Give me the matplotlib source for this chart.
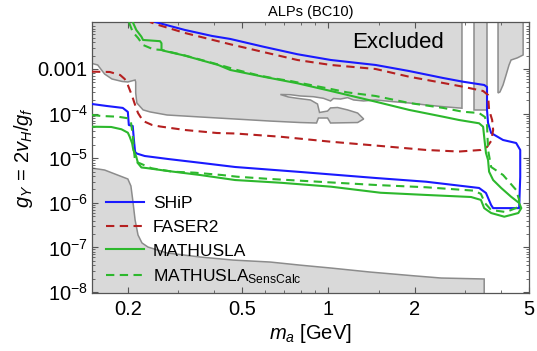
import numpy as np
import matplotlib
matplotlib.use("Agg")
import matplotlib.pyplot as plt
from matplotlib.ticker import FixedLocator, FixedFormatter, NullFormatter

plt.rcParams['font.family'] = ['Liberation Sans', 'DejaVu Sans']
plt.rcParams['mathtext.fontset'] = 'custom'
plt.rcParams['mathtext.rm'] = 'Liberation Sans'
plt.rcParams['mathtext.it'] = 'Liberation Sans:italic'
plt.rcParams['mathtext.bf'] = 'Liberation Sans:bold'

# --- excluded regions (gray), boundaries ---
# upper region, traced left -> right incl. the white notch around 1 GeV
excl_up_m = [0.14, 0.14, 0.150, 0.157, 0.166, 0.176, 0.191, 0.200, 0.212, 0.213, 0.213,
             0.215, 0.226, 0.239, 0.274, 0.357, 0.466, 0.627, 0.799, 0.909, 0.923, 0.993,
             1.017, 1.264, 1.327, 1.264, 1.166, 1.076, 1.017, 0.993, 0.931, 0.916, 0.866,
             0.780, 0.725, 0.680, 0.737, 0.799, 0.887, 0.961, 1.017, 1.042, 1.102, 1.166,
             1.224, 1.327, 1.46, 1.68, 1.91, 2.19, 2.51, 2.92, 2.92]
excl_up_g = [5e-2, 1.33e-3, 1.33e-3, 1.23e-3, 7.7e-4, 5.97e-4, 5.25e-4, 5.11e-4, 5.66e-4, 5.11e-4, 2.90e-4,
             1.73e-4, 1.21e-4, 1.09e-4, 9.3e-5, 8.4e-5, 7.6e-5, 6.8e-5, 6.3e-5, 6.15e-5, 7.96e-5, 7.96e-5,
             6.15e-5, 6.3e-5, 7.57e-5, 1.03e-4, 1.21e-4, 1.37e-4, 1.34e-4, 1.14e-4, 1.06e-4, 1.64e-4, 2.02e-4,
             2.20e-4, 2.36e-4, 2.68e-4, 2.65e-4, 2.48e-4, 2.39e-4, 2.20e-4, 1.92e-4, 2.18e-4, 2.12e-4, 2.28e-4,
             2.02e-4, 1.92e-4, 2.02e-4, 1.85e-4, 1.73e-4, 1.56e-4, 1.43e-4, 1.32e-4, 5e-2]

excl_strip_m = [3.22, 3.22, 3.57, 3.57]
excl_strip_g = [5e-2, 1.2e-4, 1.2e-4, 5e-2]

excl_finger_m = [3.90, 3.90, 3.96, 4.06, 4.16, 4.26, 4.33, 4.55, 4.77, 4.77]
excl_finger_g = [5e-2, 2.90e-4, 3.05e-4, 4.38e-4, 7.33e-4, 1.23e-3, 1.59e-3, 1.77e-3, 2.06e-3, 5e-2]

excl_low_m = [0.14, 0.14, 0.150, 0.166, 0.200, 0.205, 0.208, 0.212, 0.217, 0.224, 0.235, 0.274,
              0.357, 0.466, 0.627, 0.799, 1.02, 1.40, 2.0, 2.47, 3.49, 3.49]
excl_low_g = [1e-9, 6.0e-6, 6.0e-6, 5.43e-6, 3.42e-6, 2.38e-6, 1.16e-6, 4.11e-7, 1.90e-7, 1.26e-7, 1.02e-7, 7.5e-8,
              6.1e-8, 5.2e-8, 4.7e-8, 4.0e-8, 3.45e-8, 2.8e-8, 2.3e-8, 2.06e-8, 1.96e-8, 1e-9]

# --- sensitivity curves ---
ship_m = [0.150, 0.169, 0.192, 0.200, 0.2016, 0.208, 0.210, 0.212, 0.215, 0.229, 0.276, 0.363, 0.473,
          0.799, 1.46, 2.19, 3.35, 3.54, 3.69, 3.75, 4.62, 4.66, 4.66, 4.51, 4.06, 3.69, 3.60, 3.57,
          3.57, 3.49, 2.94, 2.51, 1.91, 1.46, 1.02, 0.780, 0.593, 0.455, 0.393, 0.316, 0.249]
ship_g = [1.64e-4, 1.48e-4, 1.34e-4, 1.09e-4, 5.55e-5, 5.27e-5, 2.56e-5, 1.38e-5, 1.27e-5, 1.12e-5, 9.6e-6,
          7.8e-6, 6.35e-6, 4.91e-6, 3.60e-6, 2.97e-6, 2.15e-6, 1.66e-6, 8.9e-7, 7.6e-7, 7.6e-7, 3.79e-6,
          1.53e-5, 2.19e-5, 2.56e-5, 3.67e-5, 6.15e-5, 1.21e-4, 3.95e-4, 4.38e-4, 5.19e-4, 6.28e-4, 9.0e-4,
          1.23e-3, 1.59e-3, 2.14e-3, 3.16e-3, 4.71e-3, 5.50e-3, 7.5e-3, 1.13e-2]

faser2_m = [0.150, 0.173, 0.188, 0.195, 0.200, 0.207, 0.212, 0.217, 0.226, 0.243, 0.259, 0.316, 0.409,
            0.473, 0.680, 1.02, 1.52, 2.19, 2.85, 3.40, 3.57, 3.69, 3.75, 3.72, 3.63, 3.60, 3.46, 2.94,
            2.51, 1.91, 1.46, 1.02, 0.780, 0.593, 0.455, 0.316, 0.249, 0.239]
faser2_g = [8.7e-4, 8.57e-4, 7.33e-4, 5.97e-4, 4.38e-4, 2.48e-4, 1.56e-4, 1.03e-4, 6.83e-5, 5.55e-5, 5.14e-5,
            4.29e-5, 3.67e-5, 3.58e-5, 3.03e-5, 2.34e-5, 1.88e-5, 1.53e-5, 1.41e-5, 1.53e-5, 1.78e-5, 2.43e-5,
            4.29e-5, 7.19e-5, 1.21e-4, 2.61e-4, 3.21e-4, 4.01e-4, 4.86e-4, 6.71e-4, 1.0e-3, 1.23e-3, 1.59e-3,
            2.40e-3, 3.58e-3, 6.42e-3, 1.02e-2, 1.13e-2]

mathusla_m = [0.150, 0.175, 0.190, 0.200, 0.203, 0.207, 0.209, 0.214, 0.217, 0.223, 0.233, 0.276, 0.357,
              0.473, 0.680, 1.02, 1.52, 2.19, 3.14, 3.40, 3.49, 3.69, 4.10, 4.59, 4.70, 4.62, 4.33, 4.00,
              3.75, 3.63, 3.60, 3.54, 3.49, 3.46, 3.35, 2.85, 2.51, 1.91, 1.46, 1.02, 0.780, 0.593, 0.455,
              0.413, 0.316, 0.269, 0.262, 0.262, 0.259, 0.226, 0.223, 0.214, 0.208]
mathusla_g = [5.08e-5, 5.01e-5, 4.45e-5, 3.73e-5, 3.03e-5, 2.16e-5, 1.53e-5, 1.08e-5, 7.69e-6, 6.2e-6, 6.0e-6,
              5.16e-6, 4.20e-6, 3.24e-6, 2.82e-6, 2.30e-6, 1.68e-6, 1.50e-6, 1.35e-6, 1.16e-6, 7.6e-7, 5.9e-7,
              4.88e-7, 5.9e-7, 7.6e-7, 9.9e-7, 1.37e-6, 2.15e-6, 3.24e-6, 4.98e-6, 9.1e-6, 1.31e-5, 2.99e-5,
              5.08e-5, 6.06e-5, 7.19e-5, 8.51e-5, 1.21e-4, 1.85e-4, 3.21e-4, 4.78e-4, 6.71e-4, 9.5e-4,
              1.23e-3, 1.99e-3, 2.53e-3, 2.67e-3, 3.77e-3, 4.2e-3, 4.47e-3, 5.30e-3, 7.5e-3, 1.13e-2]

senscalc_m = [0.150, 0.162, 0.185, 0.200, 0.205, 0.208, 0.210, 0.212, 0.220, 0.242, 0.287, 0.343, 0.425,
              0.480, 0.627, 1.46, 2.19, 3.22, 3.40, 3.51, 3.69, 4.16, 4.59, 4.62, 4.51, 4.06, 3.69, 3.60,
              3.57, 3.51, 3.35, 2.94, 2.51, 1.91, 1.46, 1.16, 1.02, 0.866, 0.737, 0.643, 0.564, 0.480,
              0.413, 0.316, 0.262, 0.245, 0.226, 0.217, 0.208, 0.2016]
senscalc_g = [9.3e-5, 8.83e-5, 8.51e-5, 7.85e-5, 6.49e-5, 3.31e-5, 1.53e-5, 8.36e-6, 7.7e-6, 5.94e-6, 4.98e-6,
              4.73e-6, 4.20e-6, 3.85e-6, 3.42e-6, 2.51e-6, 2.23e-6, 1.87e-6, 1.58e-6, 9.9e-7, 6.9e-7, 6.2e-7,
              8.05e-7, 1.16e-6, 1.94e-6, 4.20e-6, 6.35e-6, 1.53e-5, 5.55e-5, 8.4e-5, 1.03e-4, 1.10e-4, 1.34e-4,
              1.73e-4, 2.48e-4, 3.0e-4, 3.56e-4, 4.38e-4, 5.38e-4, 6.18e-4, 7.33e-4, 9.5e-4, 1.26e-3, 2.01e-3,
              2.67e-3, 2.77e-3, 3.45e-3, 4.96e-3, 6.76e-3, 1.13e-2]

x_major = [0.2, 0.5, 1, 2, 5]
x_major_labels = ['0.2', '0.5', '1', '2', '5']
x_minor = [0.3, 0.4, 0.6, 0.7, 0.8, 0.9, 1.5, 3, 4]
y_major = [1e-8, 1e-7, 1e-6, 1e-5, 1e-4, 1e-3]
y_major_labels = [r'$10^{-8}$', r'$10^{-7}$', r'$10^{-6}$', r'$10^{-5}$', r'$10^{-4}$', '0.001']

fill_col = '#d9d9d9'
edge_col = '#8c8c8c'

fig = plt.figure(figsize=(5.37, 3.51), dpi=100)
ax = fig.add_axes([0.1713, 0.1652, 0.8138, 0.7721])
ax.set_xscale('log')
ax.set_yscale('log')

for xm, yg in [(excl_up_m, excl_up_g), (excl_strip_m, excl_strip_g),
               (excl_finger_m, excl_finger_g), (excl_low_m, excl_low_g)]:
    ax.fill(xm, yg, facecolor=fill_col, edgecolor=edge_col, lw=1.1, zorder=1)

l1, = ax.plot(ship_m, ship_g, color='#1a1aff', lw=1.5, zorder=3)
l2, = ax.plot(faser2_m, faser2_g, color='#b52020', lw=1.5, ls=(0, (4, 2.6)), zorder=3)
l3, = ax.plot(mathusla_m, mathusla_g, color='#2db82d', lw=1.5, zorder=3)
l4, = ax.plot(senscalc_m, senscalc_g, color='#2db82d', lw=1.5, ls=(0, (4, 2.6)), zorder=3)

ax.set_xlim(0.15, 5.0)
ax.set_ylim(9.5e-9, 1.13e-2)

ax.xaxis.set_major_locator(FixedLocator(x_major))
ax.xaxis.set_major_formatter(FixedFormatter(x_major_labels))
ax.xaxis.set_minor_locator(FixedLocator(x_minor))
ax.xaxis.set_minor_formatter(NullFormatter())
ax.yaxis.set_major_locator(FixedLocator(y_major))
ax.yaxis.set_major_formatter(FixedFormatter(y_major_labels))
ax.yaxis.set_minor_locator(FixedLocator([k * 10.0 ** e for e in range(-9, -1) for k in range(2, 10)]))
ax.yaxis.set_minor_formatter(NullFormatter())

ax.tick_params(which='both', direction='in', top=True, right=True, color='#555555', labelsize=14.5)
ax.tick_params(which='major', length=4.5, width=0.8)
ax.tick_params(which='minor', length=2.5, width=0.6)
ax.tick_params(axis='x', pad=5)
ax.tick_params(axis='y', pad=3)
for sp in ax.spines.values():
    sp.set_color('#555555')
    sp.set_linewidth(0.9)

ax.set_xlabel(r'$m_a$ [GeV]', fontsize=14.5, labelpad=2)
ax.set_ylabel(r'$g_Y\,=\,2v_H/g_f$', fontsize=14.5, labelpad=2)
ax.set_title('ALPs (BC10)', fontsize=10.5, pad=4)
ax.text(0.70, 0.926, 'Excluded', transform=ax.transAxes, fontsize=16,
        ha='center', va='center', zorder=4)

ax.legend([l1, l2, l3, l4], ['SHiP', 'FASER2', 'MATHUSLA', r'MATHUSLA$_{\mathrm{SensCalc}}$'],
          loc='lower left', bbox_to_anchor=(0.0, -0.025), frameon=False, fontsize=12.5,
          handlelength=2.2, handletextpad=0.5, labelspacing=0.5, borderpad=0.3)

fig.savefig('out.png', dpi=100)
